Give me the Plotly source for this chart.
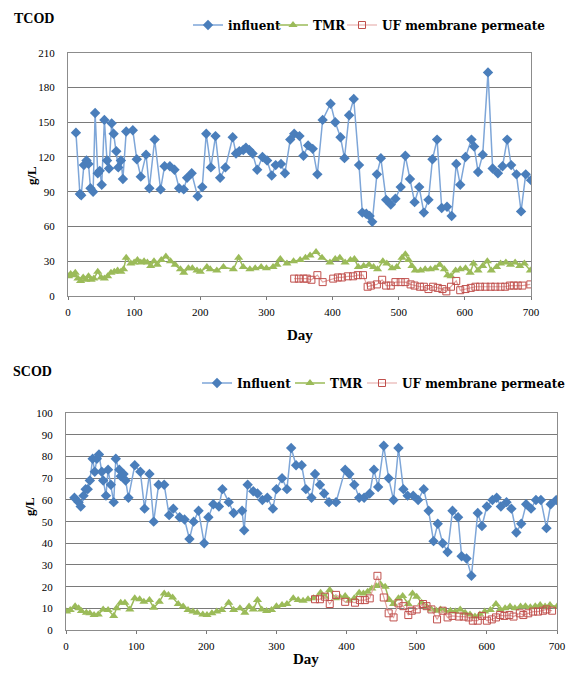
import plotly.graph_objects as go

# ---------------- TCOD data ----------------
tcod_inf_day = [12, 18, 20, 24, 28, 31, 34, 38, 41, 45, 48, 51, 55, 59, 62, 66, 69, 73, 76, 80, 83, 88,
                98, 104, 110, 118, 123, 131, 140, 146, 154, 161, 168, 175, 180, 187, 196, 203, 209, 216,
                223, 230, 238, 249, 254, 259, 265, 269, 274, 279, 286, 294, 301, 308, 314, 322, 328,
                336, 342, 350, 356, 363, 370, 377, 385, 397, 404, 412, 418, 425, 432, 440, 445, 451,
                456, 460, 467, 473, 481, 488, 495, 503, 510, 517, 524, 531, 538, 545, 551, 558, 565,
                573, 580, 587, 593, 601, 610, 614, 620, 627, 635, 642, 650, 657, 664, 670, 678, 685,
                692, 700]
tcod_inf_val = [141, 88, 87, 113, 117, 114, 93, 90, 158, 106, 108, 96, 152, 117, 110, 149, 140, 125, 111,
                117, 101, 142, 143, 118, 103, 122, 93, 135, 92, 112, 112, 109, 93, 92, 102, 106, 86, 94,
                140, 111, 138, 102, 111, 137, 123, 125, 126, 128, 126, 123, 109, 120, 117, 104, 113, 114,
                106, 135, 140, 138, 121, 130, 127, 105, 152, 166, 150, 137, 119, 156, 170, 113, 72, 71,
                69, 64, 105, 119, 83, 79, 84, 94, 121, 101, 81, 94, 72, 83, 118, 135, 76, 77, 69, 114,
                96, 120, 135, 129, 107, 122, 193, 110, 106, 112, 135, 113, 105, 73, 105, 100]

tcod_tmr_day = [1, 4, 8, 11, 15, 19, 23, 27, 31, 35, 39, 45, 50, 55, 60, 65, 70, 75, 80, 84, 88, 95, 100,
                105, 110, 115, 120, 125, 130, 135, 141, 148, 155, 162, 170, 175, 182, 188, 195, 200, 210,
                215, 225, 235, 250, 258, 265, 275, 283, 292, 300, 310, 316, 321, 331, 341, 351, 359, 366,
                375, 384, 396, 404, 411, 419, 427, 433, 439, 447, 455, 462, 468, 476, 482, 490, 497, 505,
                510, 515, 520, 525, 533, 540, 548, 555, 562, 569, 574, 579, 586, 593, 601, 608, 613, 620,
                627, 634, 640, 648, 654, 662, 669, 676, 683, 690, 699]
tcod_tmr_val = [17, 19, 18, 20, 15, 13, 16, 14, 17, 14, 15, 21, 16, 15, 17, 20, 21, 22, 21, 23, 33, 28, 29,
                31, 29, 30, 29, 26, 30, 27, 31, 34, 30, 27, 23, 20, 24, 24, 22, 21, 25, 23, 22, 25, 23,
                33, 25, 23, 24, 25, 24, 25, 27, 32, 28, 30, 31, 33, 35, 38, 33, 29, 32, 33, 29, 31, 32,
                25, 26, 27, 25, 23, 30, 28, 24, 25, 33, 36, 31, 26, 22, 22, 23, 23, 24, 27, 23, 18, 17,
                22, 23, 24, 20, 28, 22, 26, 30, 22, 25, 28, 29, 27, 29, 26, 28, 22]

tcod_uf_day = [342, 349, 356, 361, 368, 377, 385, 401, 408, 414, 423, 431, 438, 446, 453, 458, 467, 475,
               481, 488, 495, 503, 510, 518, 524, 532, 538, 545, 552, 559, 566, 572, 579, 587, 593, 601,
               609, 616, 623, 631, 639, 646, 654, 661, 668, 674, 680, 687, 699]
tcod_uf_val = [15, 15, 15, 15, 14, 18, 12, 15, 16, 16, 17, 17, 18, 18, 8, 9, 10, 14, 9, 9, 12, 12, 12, 10,
               9, 8, 8, 6, 8, 7, 6, 4, 8, 13, 5, 6, 7, 8, 8, 8, 8, 8, 8, 8, 9, 9, 9, 9, 10]

# ---------------- SCOD data ----------------
scod_inf_day = [12, 18, 21, 25, 28, 31, 34, 38, 41, 44, 47, 51, 53, 57, 60, 64, 68, 71, 76, 78, 82, 85, 89,
                98, 106, 112, 119, 125, 132, 140, 147, 153, 162, 169, 176, 182, 189, 197, 203, 210, 218,
                223, 232, 239, 251, 254, 259, 267, 273, 280, 287, 295, 300, 308, 315, 321, 328, 336, 342,
                350, 355, 362, 368, 375, 385, 398, 404, 411, 418, 425, 433, 439, 445, 453, 460, 467, 474,
                481, 487, 495, 502, 510, 517, 524, 530, 537, 544, 551, 559, 564, 571, 578, 587, 593, 600,
                608, 614, 620, 628, 635, 642, 649, 656, 663, 670, 677, 685, 691, 699]
scod_inf_val = [61, 59, 57, 62, 65, 65, 69, 79, 73, 79, 81, 73, 69, 62, 74, 67, 59, 79, 74, 71, 72, 69, 61,
                76, 73, 56, 72, 50, 67, 67, 53, 56, 52, 51, 42, 50, 55, 40, 52, 58, 57, 65, 59, 54, 55, 46,
                67, 64, 63, 60, 61, 56, 65, 70, 65, 84, 76, 76, 65, 61, 72, 67, 63, 59, 59, 74, 72, 67, 61,
                61, 63, 74, 66, 85, 70, 60, 84, 65, 62, 62, 60, 65, 55, 41, 49, 40, 36, 55, 52, 34, 33, 25,
                54, 48, 57, 60, 61, 57, 59, 56, 45, 49, 58, 56, 60, 60, 47, 58, 60]

scod_tmr_day = [1, 6, 13, 18, 22, 29, 34, 40, 46, 53, 60, 68, 72, 78, 84, 91, 98, 105, 111, 119, 125, 133,
                140, 146, 152, 160, 167, 174, 181, 187, 195, 201, 208, 215, 222, 232, 239, 248, 255, 261,
                267, 273, 279, 286, 293, 300, 308, 315, 324, 331, 338, 345, 353, 363, 369, 376, 384, 391,
                398, 404, 411, 418, 424, 430, 436, 442, 448, 455, 461, 467, 474, 480, 488, 494, 500, 507,
                514, 521, 528, 534, 540, 548, 555, 562, 569, 576, 583, 590, 597, 605, 613, 619, 626, 633,
                640, 648, 655, 662, 669, 676, 683, 690, 700]
scod_tmr_val = [8.5, 9.2, 11, 10, 8.8, 8, 7.7, 6.9, 7.2, 9.5, 9.2, 6.5, 10, 12.6, 12.6, 9.5, 14.6, 14.2, 13,
                13.8, 10.3, 13, 16.9, 16.2, 15, 12, 10.8, 9.2, 8.5, 8, 7.2, 6.9, 7.7, 8.5, 9.2, 12.6, 9.2,
                10, 8, 10.8, 9.5, 13.8, 9.5, 8.8, 9.2, 11, 11.5, 12, 14.6, 13.8, 13.5, 14.2, 14.6, 17.2,
                15.4, 18.5, 14.6, 15, 15.7, 13.5, 14.6, 17.2, 16.9, 17.7, 19.2, 20.3, 21.2, 20, 13.8, 12,
                14.6, 15.7, 12, 16.9, 15.4, 12.6, 10.8, 9.5, 8.9, 9.5, 8.9, 8.9, 8.5, 9.5, 8, 7.2, 6.2,
                7.2, 8.5, 9.2, 12, 9.5, 10, 10.8, 10, 10.8, 11, 10.5, 11, 11.5, 10.8, 11.5, 10.8]

scod_uf_day = [355, 362, 369, 376, 385, 398, 412, 419, 426, 433, 444, 453, 460, 467, 474, 481, 488, 493,
               500, 509, 514, 521, 529, 537, 544, 551, 560, 567, 574, 580, 587, 593, 600, 607, 613, 619,
               625, 632, 638, 647, 652, 659, 666, 673, 680, 685, 693]
scod_uf_val = [14.2, 14.2, 15.4, 12, 16.2, 13, 12.6, 13.8, 13.8, 14.6, 25, 15, 7.7, 5.8, 12.3, 11, 6.9, 8.9,
               9.5, 12, 11, 9.5, 4.9, 8.9, 5.8, 6.5, 6.2, 6.2, 5.8, 4.3, 4.3, 6.5, 4.3, 4.9, 5.8, 6.9,
               6.5, 6.9, 6.2, 7.7, 6.9, 7.7, 8.5, 8.5, 8.9, 9.5, 8.9]

tcod_yticks = [0, 30, 60, 90, 120, 150, 180, 210]
scod_yticks = [0, 10, 20, 30, 40, 50, 60, 70, 80, 90, 100]
x_ticks = [0, 100, 200, 300, 400, 500, 600, 700]

FONT = "Liberation Serif"
LEG_FONT = "DejaVu Serif"
BLUE_M, BLUE_L = "#4A7EBB", "#7EA6D8"
GREEN = "#9BBB59"
RED_M, RED_L = "#C0504D", "#E4A3A1"

W, H = 573, 676
def fx(px): return px / W
def fy(py): return 1 - py / H

fig = go.Figure()

series = [
    # (x, y, name, x-axis, y-axis, legend, style)
    (tcod_inf_day, tcod_inf_val, "influent", "x", "y", "legend", "inf"),
    (tcod_tmr_day, tcod_tmr_val, "TMR", "x", "y", "legend2", "tmr"),
    (tcod_uf_day, tcod_uf_val, "UF membrane permeate", "x", "y", "legend3", "uf"),
    (scod_inf_day, scod_inf_val, "Influent", "x2", "y2", "legend4", "inf"),
    (scod_tmr_day, scod_tmr_val, "TMR", "x2", "y2", "legend5", "tmr"),
    (scod_uf_day, scod_uf_val, "UF membrane permeate", "x2", "y2", "legend6", "uf"),
]
styles = {
    "inf": dict(line=dict(color=BLUE_L, width=1.5),
                marker=dict(symbol="diamond", size=8, color=BLUE_M)),
    "tmr": dict(line=dict(color=GREEN, width=1.5),
                marker=dict(symbol="triangle-up", size=8, color=GREEN)),
    "uf": dict(line=dict(color=RED_L, width=1.2),
               marker=dict(symbol="square-open", size=7, color=RED_M, line=dict(width=1))),
}
for xs, ys, name, xa, ya, lg, st in series:
    fig.add_trace(go.Scatter(x=xs, y=ys, name="<b>" + name + "</b>", mode="lines+markers",
                             xaxis=xa, yaxis=ya, legend=lg, **styles[st]))

tickfont = dict(family=FONT, size=11, color="black")
axis_common = dict(showline=True, linecolor="#8c8c8c", linewidth=1, mirror=True, zeroline=False,
                   tickfont=tickfont, automargin=False, tickprefix="<b>", ticksuffix="</b>")

def leg(xpx, ypx):
    return dict(orientation="h", x=fx(xpx), y=fy(ypx), xanchor="left", yanchor="middle",
                font=dict(family=LEG_FONT, size=12, color="black"), bgcolor="rgba(0,0,0,0)",
                borderwidth=0, itemwidth=30)

fig.update_layout(
    template="none",
    width=W, height=H, margin=dict(l=0, r=0, t=0, b=0),
    paper_bgcolor="white", plot_bgcolor="white",
    font=dict(family=FONT, color="black"),
    showlegend=True,
    xaxis=dict(domain=[fx(68), fx(531)], range=[0, 700], tickvals=x_ticks, showgrid=False,
               ticks="outside", ticklen=3, tickcolor="#777", ticklabelstandoff=3, anchor="y",
               **axis_common),
    yaxis=dict(domain=[fy(296), fy(52.7)], range=[0, 210], tickvals=tcod_yticks, showgrid=True,
               gridcolor="#7a7a7a", gridwidth=1, ticks="", ticklabelstandoff=10, anchor="x",
               **axis_common),
    xaxis2=dict(domain=[fx(66), fx(557)], range=[0, 700], tickvals=x_ticks, showgrid=False,
                ticks="outside", ticklen=3, tickcolor="#777", ticklabelstandoff=3, anchor="y2",
                **axis_common),
    yaxis2=dict(domain=[fy(630), fy(413.3)], range=[0, 100], tickvals=scod_yticks, showgrid=True,
                gridcolor="#7a7a7a", gridwidth=1, ticks="", ticklabelstandoff=10, anchor="x2",
                **axis_common),
    legend=leg(188, 25), legend2=leg(273, 25), legend3=leg(342, 25),
    legend4=leg(197, 383), legend5=leg(290, 383), legend6=leg(362, 383),
    annotations=[
        dict(text="<b>TCOD</b>", x=fx(12), y=fy(18), xref="paper", yref="paper", xanchor="left",
             yanchor="middle", showarrow=False, font=dict(family=FONT, size=14, color="black")),
        dict(text="<b>SCOD</b>", x=fx(11), y=fy(371), xref="paper", yref="paper", xanchor="left",
             yanchor="middle", showarrow=False, font=dict(family=FONT, size=14, color="black")),
        dict(text="<b>g/L</b>", x=fx(22), y=fy(164), xref="paper", yref="paper", textangle=-90,
             showarrow=False, font=dict(family=FONT, size=13, color="black")),
        dict(text="<b>g/L</b>", x=fx(20), y=fy(518), xref="paper", yref="paper", textangle=-90,
             showarrow=False, font=dict(family=FONT, size=13, color="black")),
        dict(text="<b>Day</b>", x=fx(300), y=fy(335), xref="paper", yref="paper",
             showarrow=False, font=dict(family=FONT, size=15, color="black")),
        dict(text="<b>Day</b>", x=fx(306), y=fy(669), xref="paper", yref="paper",
             showarrow=False, font=dict(family=FONT, size=15, color="black")),
    ],
)

fig.write_html("out.html", config={"displayModeBar": False},
               post_script="document.body.style.margin='0';")
